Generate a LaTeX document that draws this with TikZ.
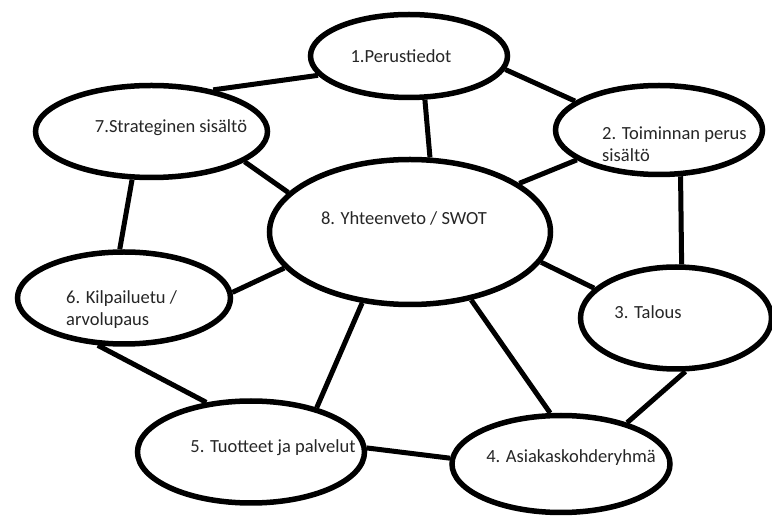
\documentclass[tikz,border=0pt]{standalone}
\usepackage{fontspec}
\setmainfont{Carlito}
\usetikzlibrary{shapes.geometric}
\begin{document}
\begin{tikzpicture}[x=1pt,y=-1pt,
  oval/.style={draw=black, line width=5.5pt, ellipse, inner sep=0pt},
  link/.style={line width=5pt, draw=black},
  lbl/.style={font=\fontsize{18.5}{22}\selectfont, text=black!85, inner sep=0pt}]
\useasboundingbox[fill=white] (0,0) rectangle (772,518);
% ellipses
\node[oval, minimum width=197pt, minimum height=83pt] (e1) at (409,56) {};
\node[oval, minimum width=232pt, minimum height=92pt] (e7) at (151.5,131.5) {};
\node[oval, minimum width=207pt, minimum height=89pt] (e2) at (659,130) {};
\node[oval, minimum width=281pt, minimum height=145pt] (e8) at (410,232) {};
\node[oval, minimum width=213pt, minimum height=92pt] (e6) at (124,298) {};
\node[oval, minimum width=191pt, minimum height=102pt] (e3) at (676,318) {};
\node[oval, minimum width=227pt, minimum height=102pt] (e5) at (251,452) {};
\node[oval, minimum width=218pt, minimum height=97pt] (e4) at (561,464) {};
% texts
\node[lbl] (t1) at (401,56) {1.Perustiedot};
\node[lbl] (t7) at (171,128) {7.Strateginen sisältö};
\node[lbl, align=left, anchor=west] (t2) at (602,144) {2. Toiminnan perus\\sisältö};
\node[lbl] (t8) at (404,218) {8. Yhteenveto / SWOT};
\node[lbl, align=left, anchor=west] (t6) at (66,310) {6. Kilpailuetu /\\arvolupaus};
\node[lbl] (t3) at (648,312) {3. Talous};
\node[lbl] (t5) at (273,448) {5. Tuotteet ja palvelut};
\node[lbl] (t4) at (571,458) {4. Asiakaskohderyhmä};
% connectors
\draw[link] (e1.192) -- (e7.34);
\draw[link] (e1.290) -- (e8.75);
\draw[link] (e1.352) -- (e2.161);
\draw[link] (e7.342) -- (e8.162);
\draw[link] (e7.248) -- (e6.95);
\draw[link] (e2.200) -- (e8.24);
\draw[link] (e2.295) -- (e3.84);
\draw[link] (e8.347) -- (e3.160);
\draw[link] (e8.196) -- (e6.3);
\draw[link] (e8.236) -- (e5.34);
\draw[link] (e8.312) -- (e4.102);
\draw[link] (e6.241) -- (e5.132);
\draw[link] (e5.2) -- (e4.177);
\draw[link] (e3.280) -- (e4.32);
\end{tikzpicture}
\end{document}
